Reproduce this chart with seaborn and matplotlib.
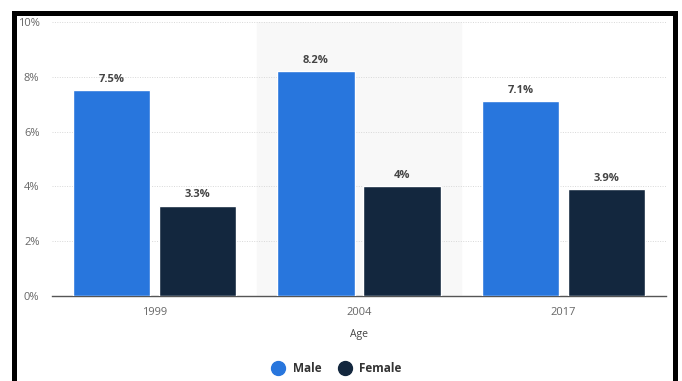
import pandas as pd
import seaborn as sns
import matplotlib.pyplot as plt
from matplotlib.lines import Line2D
from matplotlib.patches import Rectangle

years = ["1999", "2004", "2017"]
male = [7.5, 8.2, 7.1]
female = [3.3, 4.0, 3.9]
series = ["Male", "Female"]
colors = ["#2876dd", "#13273e"]

df = pd.DataFrame({
    "Age": years * 2,
    "Share": male + female,
    "Sex": ["Male"] * len(years) + ["Female"] * len(years),
})

sns.set_style("white")
plt.rcParams["font.family"] = ["Open Sans", "DejaVu Sans"]

fig = plt.figure(figsize=(6.82, 3.81), dpi=100)
ax = fig.add_axes([52 / 682, 85 / 381, 614 / 682, 274 / 381])

# light band behind the middle group
ax.axvspan(0.5, 1.5, color="#f8f8f8", zorder=0)

sns.barplot(
    data=df, x="Age", y="Share", hue="Sex", hue_order=series,
    palette=colors, width=0.84, gap=0.1, saturation=1, ax=ax,
    legend=False, zorder=3,
)

for cont in ax.containers:
    labels = [f"{b.get_height():g}%" for b in cont]
    ax.bar_label(cont, labels=labels, padding=4, fontsize=8,
                 fontweight="bold", color="#444444")

ax.set_xlim(-0.5, 2.5)
ax.set_ylim(0, 10)
ax.set_yticks([0, 2, 4, 6, 8, 10])
ax.set_yticklabels([f"{t}%" for t in [0, 2, 4, 6, 8, 10]])
ax.grid(axis="y", color="#d8d8d8", linestyle=(0, (1, 1.5)), linewidth=0.7, zorder=1)
ax.set_axisbelow(True)
ax.tick_params(axis="both", length=0, labelsize=8, labelcolor="#666666")
ax.tick_params(axis="x", pad=8)
ax.tick_params(axis="y", pad=9)
for s in ["top", "right", "left"]:
    ax.spines[s].set_visible(False)
ax.spines["bottom"].set_color("#555555")
ax.spines["bottom"].set_linewidth(1.0)
ax.set_ylabel("")
ax.set_xlabel("Age", fontsize=7.5, color="#444444", labelpad=8)

handles = [Line2D([], [], marker="o", linestyle="", markersize=10,
                  markerfacecolor=c, markeredgecolor=c) for c in colors]
leg = fig.legend(handles, series, loc="center", ncol=2, frameon=False,
                 bbox_to_anchor=(334 / 682, 1 - 369 / 381), handletextpad=0.2,
                 columnspacing=1.0, prop={"size": 8.5, "weight": "bold"})
for t in leg.get_texts():
    t.set_color("#333333")

# black frame around the chart
fig.patches.append(Rectangle((14.5 / 682, -0.1), 660 / 682, 1.1 - 12.5 / 381,
                             transform=fig.transFigure, fill=False,
                             edgecolor="black", linewidth=3.6, zorder=10))

fig.savefig("out.png", dpi=100)
